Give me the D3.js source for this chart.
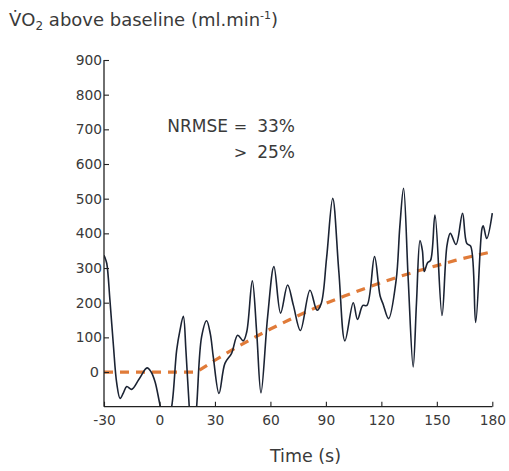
<!DOCTYPE html>
<html>
<head>
<meta charset="utf-8">
<script src="https://cdn.jsdelivr.net/npm/d3@7"></script>
<style>
  html, body { margin: 0; padding: 0; background: #fff; }
  svg { display: block; }
  text { font-family: "DejaVu Sans", Verdana, sans-serif; fill: #3a3a3a; }
</style>
</head>
<body>
<svg id="chart" width="509" height="471"></svg>
<script>
// ---- data ----
const timeS = [-30, -29.5, -28.5, -26.8, -25, -23.1, -21.3, -19.5, -17.7, -15, -11, -6.7, -4.5, -2.4, 0.3, 3.5, 6.6, 9.3, 11.1, 12.9, 14.3, 16.1, 18, 20.1, 22.8, 25.5, 27.5, 29.1, 32.2, 35.4, 39, 42.3, 45.3, 47.2, 50.2, 52.6, 54.9, 58.5, 61.9, 65.5, 69.3, 72.4, 76.2, 81.4, 85.2, 87.5, 90.4, 93.7, 97, 100.3, 104.8, 107.1, 110, 112.2, 116.3, 119.3, 121, 123.9, 128, 130, 132, 134.5, 137.2, 139, 140.9, 142.2, 143.2, 145, 146.6, 149, 152.8, 155.5, 157.3, 160.4, 163.9, 166.2, 168.3, 171, 174.4, 175.1, 177, 180];
const vo2 = [337, 330, 313, 208, 83, -33, -76, -60, -42, -50, -20, 12, 0, -28, -95, -165, -100, 63, 121, 161, 63, -100, -230, -100, 102, 148, 110, 44, -62, 25, 54, 106, 90, 116, 263, 112, -60, 160, 304, 170, 251, 193, 120, 236, 178, 198, 330, 501, 290, 90, 200, 152, 192, 192, 333, 220, 195, 154, 265, 420, 530, 270, 15, 200, 379, 350, 290, 315, 322, 453, 163, 365, 400, 368, 458, 371, 363, 143, 413, 422, 385, 458];

const fitTime = [-30, 20, 30, 40, 50, 60, 70, 80, 90, 100, 110, 120, 130, 140, 150, 160, 170, 180];
const fitVo2  = [0, 0, 34, 66, 96, 124, 150, 175, 198, 219, 239, 258, 276, 292, 307, 322, 335, 347];

const xTicks = [-30, 0, 30, 60, 90, 120, 150, 180];
const yTicks = [0, 100, 200, 300, 400, 500, 600, 700, 800, 900];

const titleMain = "V\u0307O";
const titleSub = "2";
const titleRest = " above baseline (ml.min";
const titleSup = "-1";
const titleEnd = ")";
const xLabel = "Time (s)";
const noteName = "NRMSE";
const noteOp1 = "=";
const noteVal1 = "33%";
const noteOp2 = ">";
const noteVal2 = "25%";

// ---- layout ----
const svg = d3.select("#chart");
const x = d3.scaleLinear().domain([-30, 180]).range([104, 492.3]);
const y = d3.scaleLinear().domain([-100, 900]).range([406.7, 60]);

svg.append("defs").append("clipPath").attr("id", "plotClip")
  .append("rect")
  .attr("x", x(-30)).attr("y", y(900) - 20)
  .attr("width", x(180) - x(-30) + 4)
  .attr("height", y(-100) - y(900) + 20);

const plot = svg.append("g").attr("clip-path", "url(#plotClip)");

// fitted model (dashed)
const fitData = fitTime.map((t, i) => [t, fitVo2[i]]);
plot.append("path")
  .datum(fitData)
  .attr("fill", "none")
  .attr("stroke", "#E07B39")
  .attr("stroke-width", 3.2)
  .attr("stroke-dasharray", "9,7")
  .attr("d", d3.line().x(d => x(d[0])).y(d => y(d[1])));

// measured response
const data = timeS.map((t, i) => [t, vo2[i]]);
plot.append("path")
  .datum(data)
  .attr("fill", "none")
  .attr("stroke", "#1b2333")
  .attr("stroke-width", 1.6)
  .attr("stroke-linejoin", "round")
  .attr("d", d3.line().curve(d3.curveCatmullRom.alpha(0.5)).x(d => x(d[0])).y(d => y(d[1])));

// axes
const fmt = d => String(d);
const xAxis = d3.axisBottom(x).tickValues(xTicks).tickFormat(fmt).tickSizeInner(-5).tickSizeOuter(0).tickPadding(9);
const gx = svg.append("g").attr("transform", `translate(0,${y(-100)})`).call(xAxis);
const yAxis = d3.axisLeft(y).tickValues(yTicks).tickFormat(fmt).tickSizeInner(-5).tickSizeOuter(0).tickPadding(2);
const gy = svg.append("g").attr("transform", `translate(${x(-30)},0)`).call(yAxis);

[gx, gy].forEach(g => {
  g.select(".domain").attr("stroke", "#222").attr("stroke-width", 1.3);
  g.selectAll(".tick line").attr("stroke", "#222").attr("stroke-width", 1.1);
  g.selectAll(".tick text")
    .attr("font-family", "DejaVu Sans, Verdana, sans-serif")
    .attr("font-size", 13.8)
    .attr("fill", "#3a3a3a");
});
gy.select(".domain").attr("d", `M0,${y(-100)}V${y(900)}`);
gx.select(".domain").attr("d", `M${x(-30)},0H${x(180)}`);
gy.selectAll(".tick").filter(d => d === 0).select("text").attr("dx", -3).attr("font-size", 14.5);

// title
const title = svg.append("text").attr("x", 9).attr("y", 26).attr("font-size", 18);
title.append("tspan").text(titleMain);
title.append("tspan").attr("font-size", 12).attr("dy", 4).text(titleSub);
title.append("tspan").attr("dy", -4).text(titleRest);
title.append("tspan").attr("font-size", 11).attr("dy", -7).text(titleSup);
title.append("tspan").attr("dy", 7).text(titleEnd);

// x label
svg.append("text").attr("x", 305.5).attr("y", 462).attr("text-anchor", "middle")
  .attr("font-size", 17.5).text(xLabel);

// note
const noteFs = 17;
svg.append("text").attr("x", 228).attr("y", 132).attr("text-anchor", "end").attr("font-size", noteFs).text(noteName);
svg.append("text").attr("x", 240.5).attr("y", 132).attr("text-anchor", "middle").attr("font-size", noteFs - 1).text(noteOp1);
svg.append("text").attr("x", 295).attr("y", 132).attr("text-anchor", "end").attr("font-size", noteFs).text(noteVal1);
svg.append("text").attr("x", 240.5).attr("y", 158).attr("text-anchor", "middle").attr("font-size", noteFs - 1).text(noteOp2);
svg.append("text").attr("x", 295).attr("y", 158).attr("text-anchor", "end").attr("font-size", noteFs).text(noteVal2);
</script>
</body>
</html>
